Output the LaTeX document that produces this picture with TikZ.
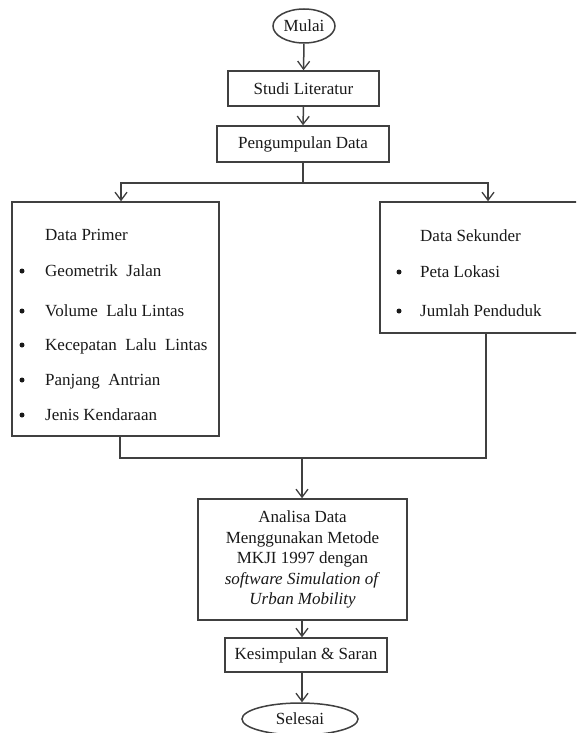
\documentclass[tikz,border=0pt]{standalone}
\usepackage{fontspec}
\setmainfont{Liberation Serif}
\usetikzlibrary{shapes.geometric,arrows.meta}
\begin{document}
\begin{tikzpicture}[x=1pt,y=-1pt,
  line/.style={draw=black!75, line width=1.5pt},
  arr/.style={line, -{Straight Barb[length=8pt,width=12pt,line width=1.3pt]}},
  txt/.style={font=\fontsize{17}{20.5}\selectfont, inner sep=0pt, text=black!90},
  box/.style={line, rectangle, inner sep=0pt, txt},
  oval/.style={line, ellipse, inner sep=0pt, txt},
  lbl/.style={txt, anchor=base west},
  blt/.style={circle, fill=black!90, inner sep=0pt, minimum size=5pt},
]
\useasboundingbox (0,0) rectangle (576,733);
\clip (0,0) rectangle (576,733);
\fill[white] (0,0) rectangle (576,733);

% main flow nodes
\node[oval, minimum width=62pt, minimum height=34pt] (mulai) at (304,26) {Mulai};
\node[box, minimum width=151pt, minimum height=35pt] (studi) at (303.5,88.5) {Studi Literatur};
\node[box, minimum width=172pt, minimum height=36pt] (kumpul) at (303,144) {Pengumpulan Data};
\node[box, minimum width=207pt, minimum height=234pt] (primer) at (115.5,319) {};
\node[box, minimum width=240pt, minimum height=131pt] (sekunder) at (500,267.5) {};
\node[box, minimum width=209pt, minimum height=121pt, align=center] (analisa) at (302.5,559.5)
  {Analisa Data\\Menggunakan Metode\\MKJI 1997 dengan\\\textit{software Simulation of}\\\textit{Urban Mobility}};
\node[box, minimum width=162pt, minimum height=34pt] (kesimpulan) at (306,655) {Kesimpulan \& Saran};
\node[oval, minimum width=116pt, minimum height=32pt] (selesai) at (300,719) {Selesai};

% Data Primer contents
\node[lbl] (p0) at (45,240) {Data Primer};
\node[blt] (b1) at (22,271) {};
\node[lbl] (p1) at (45,276) {Geometrik\ \ Jalan};
\node[blt] (b2) at (22,311) {};
\node[lbl] (p2) at (45,316) {Volume\ \ Lalu Lintas};
\node[blt] (b3) at (22,345) {};
\node[lbl] (p3) at (45,350) {Kecepatan\ \ Lalu\ \ Lintas};
\node[blt] (b4) at (22,380) {};
\node[lbl] (p4) at (45,385) {Panjang\ \ Antrian};
\node[blt] (b5) at (22,415) {};
\node[lbl] (p5) at (45,420) {Jenis Kendaraan};

% Data Sekunder contents
\node[lbl] (s0) at (420,241) {Data Sekunder};
\node[blt] (c1) at (399,272) {};
\node[lbl] (s1) at (420,277) {Peta Lokasi};
\node[blt] (c2) at (399,311) {};
\node[lbl] (s2) at (420,316) {Jumlah Penduduk};

% connectors
\draw[arr] (mulai.south) -- (studi.north);
\draw[arr] (studi.south) -- (kumpul.north);
\coordinate (split) at (303,183);
\coordinate (pl) at (121,183);
\coordinate (pr) at (488,183);
\draw[line] (kumpul.south) -- (split);
\draw[arr] (split) -- (pl) -- (pl |- primer.north);
\draw[arr] (split) -- (pr) -- (pr |- sekunder.north);
\coordinate (jl) at (120,458);
\coordinate (jr) at (486,458);
\coordinate (join) at (302,458);
\draw[line] (jl |- primer.south) -- (jl) -- (jr) -- (jr |- sekunder.south);
\draw[arr] (join) -- (join |- analisa.north);
\draw[arr] (join |- analisa.south) -- (join |- kesimpulan.north);
\draw[arr] (join |- kesimpulan.south) -- (join |- selesai.north);
\end{tikzpicture}
\end{document}
